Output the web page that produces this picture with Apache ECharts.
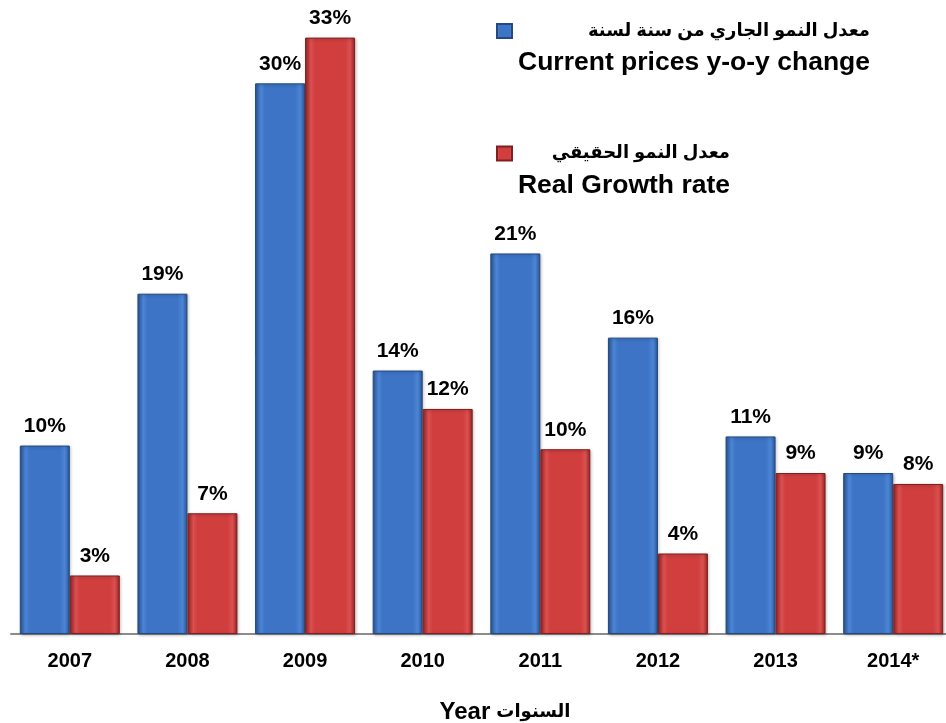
<!DOCTYPE html>
<html>
<head>
<meta charset="utf-8">
<script src="https://cdn.jsdelivr.net/npm/echarts@6/dist/echarts.min.js"></script>
<style>
html,body{margin:0;padding:0;background:#fff;}
#chart{width:946px;height:723px;}
</style>
</head>
<body>
<div id="chart"></div>
<script>
var categories = ['2007', '2008', '2009', '2010', '2011', '2012', '2013', '2014*'];
var currentGrowth = [10.3, 18.6, 30.1, 14.4, 20.8, 16.2, 10.8, 8.8];
var realGrowth = [3.2, 6.6, 32.6, 12.3, 10.1, 4.4, 8.8, 8.2];
var seriesNames = ['معدل النمو الجاري من سنة لسنة\nCurrent prices y-o-y change', 'معدل النمو الحقيقي\nReal Growth rate'];
var axisTitleEn = 'Year';
var axisTitleAr = 'السنوات';

var FONT = 'Arial, "Liberation Sans", "DejaVu Sans", sans-serif';
var G = echarts.graphic;
function barGrad(edge, main, light) {
  return new G.LinearGradient(0, 0, 1, 0, [
    {offset: 0, color: edge},
    {offset: 0.12, color: light},
    {offset: 0.2, color: main},
    {offset: 0.8, color: main},
    {offset: 0.9, color: light},
    {offset: 1, color: edge}
  ]);
}
var blueFill = barGrad('#2a5595', '#3d74c6', '#4c85d6');
var redFill = barGrad('#962424', '#d03e3e', '#db5050');

var chart = echarts.init(document.getElementById('chart'), null, {renderer: 'canvas'});
var labelCfg = {
  show: true, position: 'top', distance: 9,
  fontFamily: FONT, fontWeight: 'bold', fontSize: 21, color: '#000',
  formatter: function (p) { return Math.round(p.value) + '%'; }
};
chart.setOption({
  backgroundColor: '#ffffff',
  animation: false,
  legend: {
    orient: 'vertical',
    left: 496, top: 22, padding: 0,
    itemWidth: 15, itemHeight: 14, itemGap: 68,
    icon: 'rect',
    data: [seriesNames[0], seriesNames[1]],
    textStyle: {
      fontFamily: FONT, fontWeight: 'bold', fontSize: 26.5, color: '#000',
      padding: [32, 0, 0, 0],
      rich: {
        a: {fontFamily: FONT, fontWeight: 'bold', fontSize: 18, lineHeight: 32, width: 353, align: 'right', color: '#000'},
        b: {fontFamily: FONT, fontWeight: 'bold', fontSize: 26.5, lineHeight: 32, width: 353, align: 'right', color: '#000'},
        c: {fontFamily: FONT, fontWeight: 'bold', fontSize: 18, lineHeight: 32, width: 213, align: 'right', color: '#000'},
        d: {fontFamily: FONT, fontWeight: 'bold', fontSize: 26.5, lineHeight: 32, width: 213, align: 'right', color: '#000'}
      }
    },
    formatter: function (name) {
      var parts = name.split('\n');
      if (name === seriesNames[0]) return '{a|' + parts[0] + '}\n{b|' + parts[1] + '}';
      return '{c|' + parts[0] + '}\n{d|' + parts[1] + '}';
    }
  },
  grid: {left: 11, right: -6, top: 12, bottom: 89, containLabel: false, outerBoundsMode: 'none'},
  xAxis: {
    type: 'category',
    data: categories,
    axisLine: {show: true, lineStyle: {color: '#8c8c8c', width: 2}},
    axisTick: {show: false},
    axisLabel: {fontFamily: FONT, fontWeight: 'bold', fontSize: 20, color: '#000', margin: 17},
    name: '{y|' + axisTitleEn + '} {r|' + axisTitleAr + '}',
    nameLocation: 'middle',
    nameGap: 66,
    nameTextStyle: {
      fontFamily: FONT, fontWeight: 'bold', fontSize: 22, color: '#000',
      padding: [0, 0, 0, 47],
      rich: {
        y: {fontFamily: FONT, fontWeight: 'bold', fontSize: 24, color: '#000'},
        r: {fontFamily: FONT, fontWeight: 'bold', fontSize: 18, color: '#000'}
      }
    }
  },
  yAxis: {
    type: 'value', min: 0, max: 34,
    show: false,
    splitLine: {show: false}
  },
  series: [
    {
      name: seriesNames[0], type: 'bar', data: currentGrowth,
      barGap: '0%', barCategoryGap: '15%',
      itemStyle: {color: blueFill, borderColor: '#23497f', borderWidth: 1,
        shadowColor: 'rgba(0,0,0,0.25)', shadowBlur: 3, shadowOffsetX: 1, shadowOffsetY: 1},
      label: labelCfg
    },
    {
      name: seriesNames[1], type: 'bar', data: realGrowth,
      barGap: '0%', barCategoryGap: '15%',
      itemStyle: {color: redFill, borderColor: '#7f1f1f', borderWidth: 1,
        shadowColor: 'rgba(0,0,0,0.25)', shadowBlur: 3, shadowOffsetX: 1, shadowOffsetY: 1},
      label: labelCfg
    }
  ]
});
</script>
</body>
</html>
